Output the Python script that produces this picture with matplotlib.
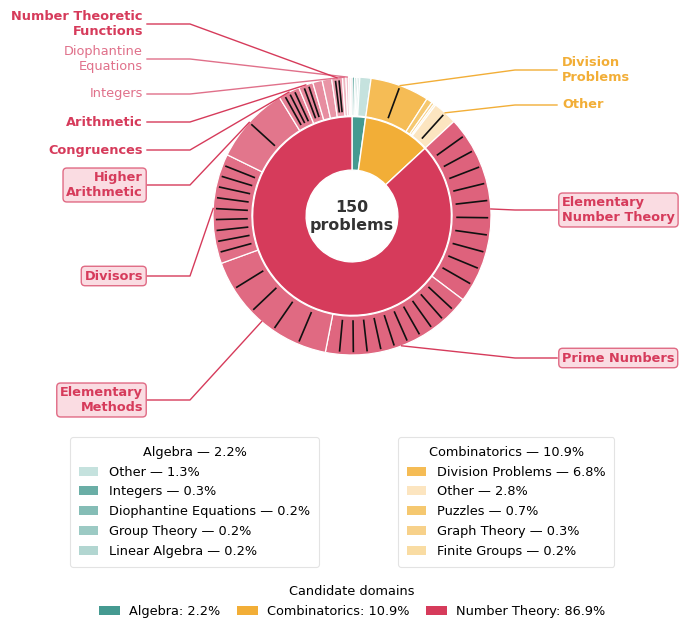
import numpy as np
import matplotlib.pyplot as plt
from matplotlib.patches import Patch
from matplotlib.colors import to_rgb

# ------------------------------------------------------------------
# Data: share of the 150 problems (%) per candidate domain and topic
# ------------------------------------------------------------------
domains = ['Algebra', 'Combinatorics', 'Number Theory']
domain_pct = [2.2, 10.9, 86.9]

# topics in the order they sit clockwise in the outer ring,
# cuts = number of black-ticked sub slices inside a topic
alg_topics = ['Integers', 'Diophantine Equations', 'Group Theory', 'Linear Algebra', 'Other']
alg_pct = [0.3, 0.2, 0.2, 0.2, 1.3]
alg_cuts = [1, 1, 1, 1, 1]

comb_topics = ['Division Problems', 'Puzzles', 'Graph Theory', 'Finite Groups', 'Other']
comb_pct = [6.8, 0.7, 0.3, 0.2, 2.8]
comb_cuts = [2, 1, 1, 1, 2]

nt_topics = ['Elementary Number Theory', 'Prime Numbers', 'Elementary Methods', 'Divisors',
             'Higher Arithmetic', 'Congruences', 'Arithmetic', 'Topic A', 'Topic B',
             'Number Theoretic Functions', 'Integers', 'Diophantine Equations',
             'Topic C', 'Topic D']
nt_pct = [22.2, 17.8, 16.4, 12.8, 9.0, 2.5, 1.7, 1.1, 1.1, 1.25, 0.4, 0.3, 0.2, 0.2]
nt_cuts = [11, 11, 5, 10, 2, 4, 3, 1, 1, 3, 1, 1, 1, 1]

# labelled topics: (domain, topic, side, label row in px from top)
labelled = [
    ('Combinatorics', 'Division Problems', 'right', 70),
    ('Combinatorics', 'Other', 'right', 105),
    ('Number Theory', 'Elementary Number Theory', 'right', 210),
    ('Number Theory', 'Prime Numbers', 'right', 358),
    ('Number Theory', 'Elementary Methods', 'left', 400),
    ('Number Theory', 'Divisors', 'left', 276),
    ('Number Theory', 'Higher Arithmetic', 'left', 185),
    ('Number Theory', 'Congruences', 'left', 150),
    ('Number Theory', 'Arithmetic', 'left', 122),
    ('Number Theory', 'Integers', 'left', 94),
    ('Number Theory', 'Diophantine Equations', 'left', 59),
    ('Number Theory', 'Number Theoretic Functions', 'left', 24),
]
wrapped = {
    'Division Problems': 'Division\nProblems',
    'Elementary Number Theory': 'Elementary\nNumber Theory',
    'Elementary Methods': 'Elementary\nMethods',
    'Higher Arithmetic': 'Higher\nArithmetic',
    'Diophantine Equations': 'Diophantine\nEquations',
    'Number Theoretic Functions': 'Number Theoretic\nFunctions',
}

# ------------------------------------------------------------------
# Colours
# ------------------------------------------------------------------
domain_colors = ['#459a91', '#f2ae37', '#d63b5b']
alg_colors = ['#6aaea6', '#85bdb6', '#9ccac4', '#b2d6d1', '#c5e2de']
comb_colors = ['#f5bc55', '#f5c870', '#f7d18a', '#f9dca3', '#fce5c0']


def lighten(color, f):
    c = np.array(to_rgb(color))
    return tuple(c + (1 - c) * f)


nt_mix = [0.2, 0.22, 0.24, 0.26, 0.3, 0.34, 0.38, 0.42, 0.46, 0.5, 0.62, 0.68, 0.74, 0.8]
nt_colors = [lighten(domain_colors[2], f) for f in nt_mix]

groups = [
    (alg_topics, alg_pct, alg_cuts, alg_colors),
    (comb_topics, comb_pct, comb_cuts, comb_colors),
    (nt_topics, nt_pct, nt_cuts, nt_colors),
]

# outer ring values scaled so each domain's topics fill the domain's share
outer_vals, outer_cols, outer_cuts, outer_keys = [], [], [], []
for dom, dpct, (names, pcts, cuts, cols) in zip(domains, domain_pct, groups):
    tot = sum(pcts)
    for n, p, c, col in zip(names, pcts, cuts, cols):
        outer_vals.append(dpct * p / tot)
        outer_cols.append(col)
        outer_cuts.append(c)
        outer_keys.append((dom, n, p))

# ------------------------------------------------------------------
# Figure: one axes covering the canvas, 139 px per data unit
# ------------------------------------------------------------------
W, H = 679, 618
cx, cy, R = 352, 216, 139.0
FS = 9.3
fig = plt.figure(figsize=(W / 100, H / 100), dpi=100)
ax = fig.add_axes([0, 0, 1, 1])

ax.pie(domain_pct, radius=0.715, colors=domain_colors, startangle=90, counterclock=False,
       wedgeprops=dict(width=0.385, edgecolor='white', linewidth=1.0))
ax.pie(outer_vals, radius=1.0, colors=outer_cols, startangle=90, counterclock=False,
       wedgeprops=dict(width=0.28, edgecolor='white', linewidth=0.9))

ax.set_xlim(-cx / R, (W - cx) / R)
ax.set_ylim(-(H - cy) / R, cy / R)
ax.set_aspect('equal')
ax.axis('off')


def angle(frac):
    return np.deg2rad(90 - 360 * frac)


total = sum(outer_vals)
mid_angle = {}
start = 0.0
for v, n, key in zip(outer_vals, outer_cuts, outer_keys):
    s, w = start / total, v / total
    for k in range(1, n):
        a = angle(s + k * w / n)
        ax.plot([0.75 * np.cos(a), 0.98 * np.cos(a)], [0.75 * np.sin(a), 0.98 * np.sin(a)],
                color='#111111', lw=1.2, solid_capstyle='butt')
    mid_angle[key[:2]] = (angle(s + w / 2), key[2])
    start += v

ax.text(0, -0.005, '150\nproblems', ha='center', va='center',
        fontsize=11.4, fontweight='bold', color='#333333', linespacing=1.2)

# ------------------------------------------------------------------
# Topic labels with leader lines
# ------------------------------------------------------------------
dom_color = dict(zip(domains, domain_colors))
for dom, topic, side, ypx in labelled:
    a, pct = mid_angle[(dom, topic)]
    y = (cy - ypx) / R
    px, py = np.cos(a), np.sin(a)
    color = dom_color[dom] if pct >= 1 else '#e0708a'
    weight = 'bold' if pct >= 1 else 'normal'
    bbox = None
    if pct >= 8:
        bbox = dict(boxstyle='round,pad=0.25,rounding_size=0.3', fc='#fadce2', ec='#e06a84', lw=1.0)
    if side == 'left':
        xs = [(147 - cx) / R, (190 - cx) / R, px]
        ys = [y, y, py]
        tx, ha = (143 - cx) / R, 'right'
    else:
        xs = [px, (515 - cx) / R, (557 - cx) / R]
        ys = [py, y, y]
        tx, ha = (562 - cx) / R, 'left'
    ax.plot(xs, ys, color=color, lw=1.0)
    ax.text(tx, y, wrapped.get(topic, topic), ha=ha, va='center', fontsize=FS,
            fontweight=weight, color=color, bbox=bbox, linespacing=1.15)

# ------------------------------------------------------------------
# Legends
# ------------------------------------------------------------------
def topic_legend(title, names, pcts, cols, anchor):
    order = sorted(range(len(names)), key=lambda i: -pcts[i])
    handles = [Patch(facecolor=cols[i], edgecolor='none') for i in order]
    labels = [f'{names[i]} — {pcts[i]:.1f}%' for i in order]
    leg = fig.legend(handles, labels, title=title, loc='upper left', bbox_to_anchor=anchor,
                     fontsize=FS, title_fontsize=FS, handlelength=1.5, handleheight=0.7,
                     labelspacing=0.52, borderpad=0.7, handletextpad=0.8, borderaxespad=0,
                     frameon=True, fancybox=True, edgecolor='#dddddd')
    leg.get_frame().set_linewidth(0.8)
    return leg


topic_legend(f'Algebra — {domain_pct[0]:.1f}%', alg_topics, alg_pct, alg_colors,
             (70 / W, 1 - 437 / H))
topic_legend(f'Combinatorics — {domain_pct[1]:.1f}%', comb_topics, comb_pct, comb_colors,
             (398 / W, 1 - 437 / H))

fig.legend([Patch(facecolor=c, edgecolor='none') for c in domain_colors],
           [f'{d}: {p:.1f}%' for d, p in zip(domains, domain_pct)],
           title='Candidate domains', loc='upper center', bbox_to_anchor=(352 / W, 1 - 584 / H),
           ncol=3, frameon=False, fontsize=FS, title_fontsize=FS, handlelength=1.6,
           handleheight=0.7, columnspacing=1.3, handletextpad=0.7, borderaxespad=0,
           borderpad=0.1)

fig.savefig('out.png', dpi=100)
